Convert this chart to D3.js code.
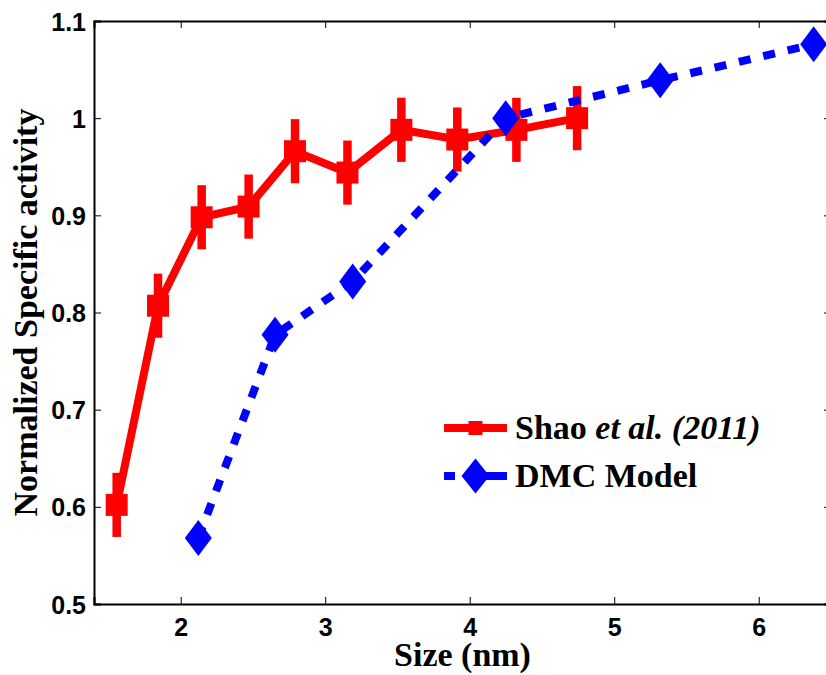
<!DOCTYPE html>
<html><head><meta charset="utf-8">
<script src="https://cdn.jsdelivr.net/npm/d3@7"></script>
<style>html,body{margin:0;padding:0;background:#fff;}svg{display:block;}</style>
</head><body>
<script>
const shaoX = [1.557, 1.843, 2.145, 2.47, 2.791, 3.154, 3.527, 3.914, 4.323, 4.743];
const shaoY = [0.602, 0.807, 0.898, 0.909, 0.966, 0.944, 0.988, 0.978, 0.988, 1.0];
const shaoErr = [0.033, 0.033, 0.033, 0.033, 0.033, 0.033, 0.033, 0.033, 0.033, 0.033];
const dmcX = [2.122, 2.653, 3.19, 4.249, 5.318, 6.38];
const dmcY = [0.568, 0.777, 0.832, 1.0, 1.039, 1.076];
const xTicks = [2, 3, 4, 5, 6];
const yTicks = [0.5, 0.6, 0.7, 0.8, 0.9, 1.0, 1.1];
const yTickLabels = ["0.5", "0.6", "0.7", "0.8", "0.9", "1", "1.1"];

const W = 826, H = 675;
const m = {left: 94, top: 21, right: 831, bottom: 604};
const svg = d3.select("body").append("svg").attr("width", W).attr("height", H);
const x = d3.scaleLinear().domain([1.4, 6.5]).range([m.left, m.right]);
const y = d3.scaleLinear().domain([0.5, 1.1]).range([m.bottom, m.top]);

// axes
const tickFont = "bold 25px 'Liberation Sans', Arial, sans-serif";
const xAx = svg.append("g").attr("transform", `translate(0,${m.bottom})`)
  .call(d3.axisBottom(x).tickValues(xTicks).tickFormat(d3.format("d")).tickSize(-7).tickPadding(14));
const xAxTop = svg.append("g").attr("transform", `translate(0,${m.top})`)
  .call(d3.axisTop(x).tickValues(xTicks).tickFormat("").tickSize(-7));
const yAx = svg.append("g").attr("transform", `translate(${m.left},0)`)
  .call(d3.axisLeft(y).tickValues(yTicks).tickFormat((d, i) => yTickLabels[i]).tickSize(-7).tickPadding(8));
const yAxR = svg.append("g").attr("transform", `translate(${m.right},0)`)
  .call(d3.axisRight(y).tickValues(yTicks).tickFormat("").tickSize(-7));
[xAx, xAxTop, yAx, yAxR].forEach(g => {
  g.select(".domain").attr("stroke", "#000").attr("stroke-width", 2);
  g.selectAll(".tick line").attr("stroke", "#000").attr("stroke-width", 1);
  g.selectAll(".tick text").style("font", tickFont).attr("fill", "#000");
});
xAx.selectAll(".tick text").attr("dy", "0.71em");
yAx.selectAll(".tick text").attr("dy", "0.36em");

// Shao series (red)
const red = "#ff0000", blue = "#0000ff";
const line = d3.line().x(d => x(d[0])).y(d => y(d[1]));
const shao = shaoX.map((v, i) => [v, shaoY[i], shaoErr[i]]);
svg.append("path").datum(shao).attr("d", line).attr("fill", "none")
  .attr("stroke", red).attr("stroke-width", 8).attr("stroke-linejoin", "miter");
svg.append("g").selectAll("line").data(shao).join("line")
  .attr("x1", d => x(d[0])).attr("x2", d => x(d[0]))
  .attr("y1", d => y(d[1] - d[2])).attr("y2", d => y(d[1] + d[2]))
  .attr("stroke", red).attr("stroke-width", 8.5);
svg.append("g").selectAll("rect").data(shao).join("rect")
  .attr("x", d => x(d[0]) - 11).attr("y", d => y(d[1]) - 11)
  .attr("width", 22).attr("height", 22).attr("fill", red);

// DMC series (blue)
const dmc = dmcX.map((v, i) => [v, dmcY[i]]);
svg.append("path").datum(dmc).attr("d", line).attr("fill", "none")
  .attr("stroke", blue).attr("stroke-width", 8).attr("stroke-dasharray", "12,13");
const diamond = (cx, cy, hw, hh) => `M${cx},${cy - hh}L${cx + hw},${cy}L${cx},${cy + hh}L${cx - hw},${cy}Z`;
svg.append("g").selectAll("path").data(dmc).join("path")
  .attr("d", d => diamond(x(d[0]), y(d[1]), 13.5, 18)).attr("fill", blue);

// Legend
const leg = svg.append("g");
const lx0 = 444, lx1 = 507, lxc = 475.5, ly1 = 428, ly2 = 476;
leg.append("line").attr("x1", lx0).attr("x2", lx1).attr("y1", ly1).attr("y2", ly1)
  .attr("stroke", red).attr("stroke-width", 8);
leg.append("rect").attr("x", lxc - 7).attr("y", ly1 - 7).attr("width", 14).attr("height", 14).attr("fill", red);
leg.append("line").attr("x1", lx0).attr("x2", lx1).attr("y1", ly2).attr("y2", ly2)
  .attr("stroke", blue).attr("stroke-width", 8).attr("stroke-dasharray", "11,11,41,11");
leg.append("path").attr("d", diamond(lxc, ly2, 14, 17.5)).attr("fill", blue);
const legFont = "bold 34px 'Liberation Serif', 'Times New Roman', serif";
const t1 = leg.append("text").attr("x", 515).attr("y", ly1 + 11).style("font", legFont).attr("fill", "#000");
t1.append("tspan").text("Shao ");
t1.append("tspan").style("font-style", "italic").text("et al.");
t1.append("tspan").text(" ");
t1.append("tspan").style("font-style", "italic").text("(2011)");
leg.append("text").attr("x", 515).attr("y", ly2 + 11).style("font", legFont).attr("fill", "#000").text("DMC Model");

// Axis titles
const labFont = "bold 34px 'Liberation Serif', 'Times New Roman', serif";
svg.append("text").attr("x", (m.left + m.right) / 2).attr("y", 666).attr("text-anchor", "middle")
  .style("font", labFont).attr("fill", "#000").text("Size (nm)");
svg.append("text").attr("transform", `translate(37,${(m.top + m.bottom) / 2}) rotate(-90)`)
  .attr("text-anchor", "middle").style("font", labFont).attr("fill", "#000").text("Normalized Specific activity");
</script>
</body></html>
